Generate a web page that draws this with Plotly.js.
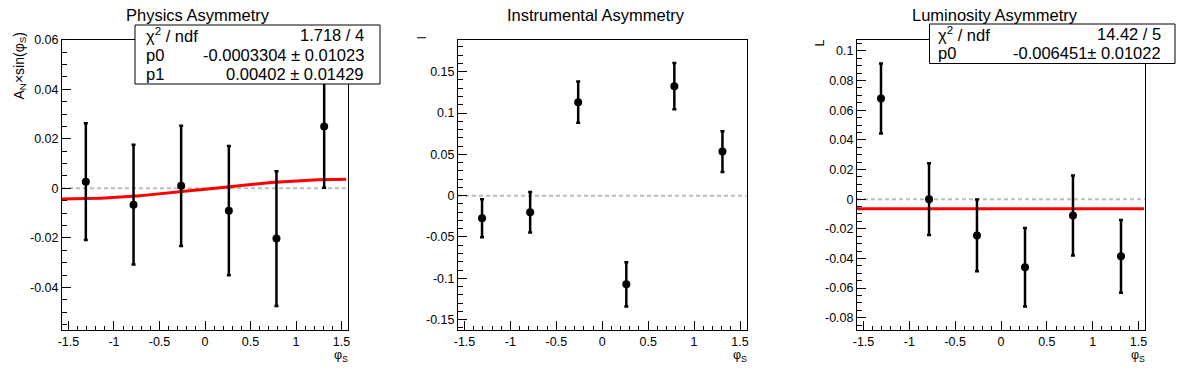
<!DOCTYPE html>
<html>
<head>
<meta charset="utf-8">
<script src="https://cdn.plot.ly/plotly-3.0.1.min.js"></script>
<style>html,body{margin:0;padding:0;background:#fff;}#chart{width:1196px;height:372px;}</style>
</head>
<body>
<div id="chart"></div>
<script>
// ---- data ----
const binCenters = [-1.309, -0.785, -0.262, 0.262, 0.785, 1.309];

const physVals = [0.0027, -0.0066, 0.0010, -0.0090, -0.0203, 0.0250];
const physErrs = [0.0236, 0.0242, 0.0243, 0.0261, 0.0272, 0.0248];

const instVals = [-0.0274, -0.0201, 0.1131, -0.1073, 0.1325, 0.0533];
const instErrs = [0.0230, 0.0245, 0.0250, 0.0268, 0.0280, 0.0248];

const lumiVals = [0.0679, 0.0000, -0.0245, -0.0460, -0.0110, -0.0386];
const lumiErrs = [0.0236, 0.0242, 0.0242, 0.0265, 0.0270, 0.0246];

// fit parameters shown in the stat boxes
const physFitP0 = -0.0003304;
const physFitP1 = 0.00402;
const lumiFitP0 = -0.006451;

const physStatNames = ["χ<sup>2</sup> / ndf", "p0", "p1"];
const physStatValues = ["1.718 / 4", "-0.0003304 ± 0.01023", "0.00402 ± 0.01429"];
const lumiStatNames = ["χ<sup>2</sup> / ndf", "p0"];
const lumiStatValues = ["14.42 / 5", "-0.006451± 0.01022"];

const titles = ["Physics Asymmetry", "Instrumental Asymmetry", "Luminosity Asymmetry"];
const yTitles = ["A<sub>N</sub>×sin(φ<sub>S</sub>)", "I", "L"];
const xTitle = "φ<sub>S</sub>";

const xTickVals = [-1.5, -1, -0.5, 0, 0.5, 1, 1.5];
const xTickText = ["-1.5", "-1", "-0.5", "0", "0.5", "1", "1.5"];
const physYTickVals = [-0.04, -0.02, 0, 0.02, 0.04, 0.06];
const physYTickText = ["-0.04", "-0.02", "0", "0.02", "0.04", "0.06"];
const instYTickVals = [-0.15, -0.1, -0.05, 0, 0.05, 0.1, 0.15];
const instYTickText = ["-0.15", "-0.1", "-0.05", "0", "0.05", "0.1", "0.15"];
const lumiYTickVals = [-0.08, -0.06, -0.04, -0.02, 0, 0.02, 0.04, 0.06, 0.08, 0.1];
const lumiYTickText = ["-0.08", "-0.06", "-0.04", "-0.02", "0", "0.02", "0.04", "0.06", "0.08", "0.1"];

// ---- layout geometry ----
const W = 1196, H = 372;
const px = v => v / W;
const py = v => 1 - v / H;
const XR = [-Math.PI / 2, Math.PI / 2];
const FONT = "Liberation Sans, Arial, Helvetica, sans-serif";
const TICKSIZE = 12.5;

const frames = [
  {x0: 62, x1: 348},
  {x0: 458, x1: 746.5},
  {x0: 857, x1: 1145}
];
const frameTop = 39.5, frameBottom = 330;

function xAxis(i) {
  return {
    domain: [px(frames[i].x0), px(frames[i].x1)],
    anchor: i === 0 ? 'y' : 'y' + (i + 1),
    range: XR,
    showline: true, linecolor: 'black', linewidth: 1, mirror: true,
    ticks: 'inside', ticklen: 9, tickwidth: 1, tickcolor: 'black',
    tickmode: 'array', tickvals: xTickVals, ticktext: xTickText,
    tickfont: {family: FONT, size: TICKSIZE, color: 'black'},
    minor: {ticks: 'inside', ticklen: 4.5, tickwidth: 1, tickcolor: 'black', tickmode: 'linear', tick0: -1.5, dtick: 0.1, showgrid: false},
    showgrid: false, zeroline: false, fixedrange: true
  };
}
function yAxis(i, range, vals, text, minorDtick) {
  return {
    domain: [py(frameBottom), py(frameTop)],
    anchor: i === 0 ? 'x' : 'x' + (i + 1),
    range: range,
    showline: true, linecolor: 'black', linewidth: 1, mirror: true,
    ticks: 'inside', ticklen: 9, tickwidth: 1, tickcolor: 'black',
    tickmode: 'array', tickvals: vals, ticktext: text,
    tickfont: {family: FONT, size: TICKSIZE, color: 'black'},
    minor: {ticks: 'inside', ticklen: 4.5, tickwidth: 1, tickcolor: 'black', tickmode: 'linear', tick0: 0, dtick: minorDtick, showgrid: false},
    showgrid: false, zeroline: false, fixedrange: true
  };
}

function pointsTrace(vals, errs, xa, ya) {
  return {
    type: 'scatter', mode: 'markers', x: binCenters, y: vals,
    xaxis: xa, yaxis: ya,
    marker: {color: 'black', size: 8},
    error_y: {type: 'data', array: errs, visible: true, color: 'black', thickness: 2.5, width: 2},
    hoverinfo: 'skip'
  };
}

// fit curves from the fitted parameters
const fitX = [];
const fitSteps = 80;
const fitEnd = 1.55;
for (let k = 0; k <= fitSteps; k++) fitX.push(XR[0] + (fitEnd - XR[0]) * k / fitSteps);
const physFitY = fitX.map(x => physFitP0 + physFitP1 * Math.sin(x));

const traces = [
  {type: 'scatter', mode: 'lines', x: fitX, y: physFitY, xaxis: 'x', yaxis: 'y', line: {color: '#ff0000', width: 3}, hoverinfo: 'skip'},
  pointsTrace(physVals, physErrs, 'x', 'y'),
  pointsTrace(instVals, instErrs, 'x2', 'y2'),
  {type: 'scatter', mode: 'lines', x: [XR[0], 1.56], y: [lumiFitP0, lumiFitP0], xaxis: 'x3', yaxis: 'y3', line: {color: '#ff0000', width: 3}, hoverinfo: 'skip'},
  pointsTrace(lumiVals, lumiErrs, 'x3', 'y3')
];

const shapes = [];
['', '2', '3'].forEach(s => {
  shapes.push({type: 'line', xref: 'x' + s, yref: 'y' + s, x0: XR[0], x1: XR[1], y0: 0, y1: 0,
    line: {color: '#bdbdbd', width: 2, dash: '4px,3px'}, layer: 'below'});
});

const annotations = [];
const titleX = [197.5, 596, 995];
titles.forEach((t, i) => annotations.push({
  xref: 'paper', yref: 'paper', x: px(titleX[i]), y: py(15), xanchor: 'center', yanchor: 'middle',
  text: t, showarrow: false, font: {family: FONT, size: 16.5, color: 'black'}
}));
const yTitleX = [19, 421, 819];
const yTitleTop = [31, 35, 38];
const yTitleSize = [14, 12.5, 12.5];
yTitles.forEach((t, i) => annotations.push({
  xref: 'paper', yref: 'paper', x: px(yTitleX[i]), y: py(yTitleTop[i]), xanchor: 'center', yanchor: 'top',
  text: t, textangle: -90, showarrow: false, font: {family: FONT, size: yTitleSize[i], color: 'black'}
}));
frames.forEach(f => annotations.push({
  xref: 'paper', yref: 'paper', x: px(f.x1 + 1), y: py(347), xanchor: 'right', yanchor: 'top',
  text: xTitle, showarrow: false, borderpad: 0, font: {family: FONT, size: 12.5, color: 'black'}
}));

// stat boxes
function statBox(box, names, values, rowsY, leftX, rightX) {
  shapes.push({type: 'rect', xref: 'paper', yref: 'paper', x0: px(box.x0), x1: px(box.x1), y0: py(box.y1), y1: py(box.y0),
    line: {color: 'black', width: 1}, fillcolor: 'white', layer: 'above'});
  names.forEach((n, r) => {
    annotations.push({xref: 'paper', yref: 'paper', x: px(leftX), y: py(rowsY[r]), xanchor: 'left', yanchor: 'middle',
      text: n, showarrow: false, font: {family: FONT, size: 16.5, color: 'black'}});
    annotations.push({xref: 'paper', yref: 'paper', x: px(rightX), y: py(rowsY[r]), xanchor: 'right', yanchor: 'middle',
      text: values[r], showarrow: false, font: {family: FONT, size: 16.5, color: 'black'}});
  });
}
statBox({x0: 135, x1: 380, y0: 25, y1: 84}, physStatNames, physStatValues, [35, 55, 74], 144, 366);
statBox({x0: 929.5, x1: 1175, y0: 24, y1: 63.5}, lumiStatNames, lumiStatValues, [34, 53.5], 936, 1163);

const layout = {
  width: W, height: H,
  margin: {l: 0, r: 0, t: 0, b: 0},
  paper_bgcolor: 'white', plot_bgcolor: 'rgba(0,0,0,0)',
  showlegend: false,
  font: {family: FONT, color: 'black'},
  xaxis: xAxis(0), xaxis2: xAxis(1), xaxis3: xAxis(2),
  yaxis: yAxis(0, [-0.0572, 0.0601], physYTickVals, physYTickText, 0.005),
  yaxis2: yAxis(1, [-0.1626, 0.189], instYTickVals, instYTickText, 0.01),
  yaxis3: yAxis(2, [-0.0883, 0.1077], lumiYTickVals, lumiYTickText, 0.005),
  shapes: shapes,
  annotations: annotations
};

Plotly.newPlot('chart', traces, layout, {displayModeBar: false, staticPlot: true});
</script>
</body>
</html>
